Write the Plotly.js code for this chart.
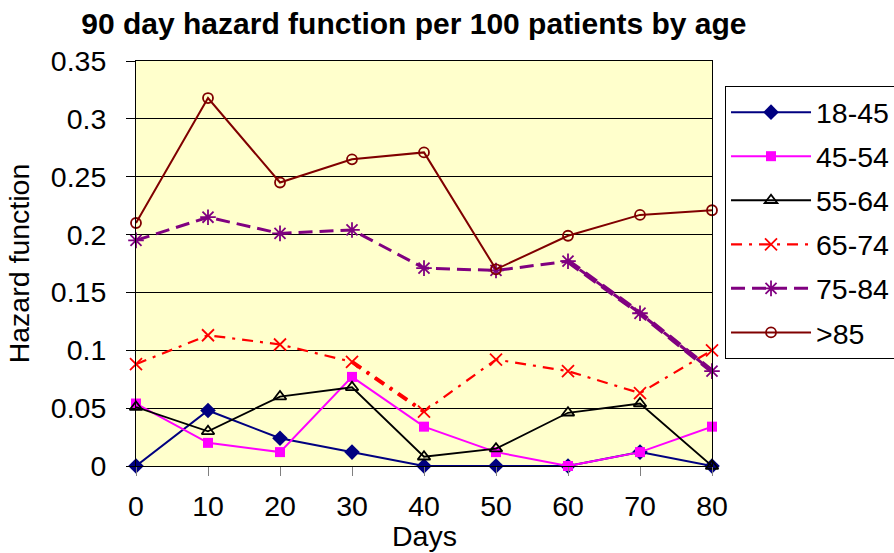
<!DOCTYPE html>
<html>
<head>
<meta charset="utf-8">
<script src="https://cdn.plot.ly/plotly-3.0.1.min.js"></script>
<style>
  html, body { margin: 0; padding: 0; background: #fff; }
  #plot { width: 894px; height: 553px; }
</style>
</head>
<body>
<div id="plot"></div>
<script>
// days since admission
var days = [0, 10, 20, 30, 40, 50, 60, 70, 80];

// hazard per 100 patients, one array per age band
var age18_45 = [0, 0.048, 0.024, 0.012, 0, 0, 0, 0.012, 0];
var age45_54 = [0.054, 0.020, 0.012, 0.077, 0.034, 0.012, 0, 0.012, 0.034];
var age55_64 = [0.051, 0.030, 0.060, 0.068, 0.008, 0.015, 0.046, 0.054, 0];
var age65_74 = [0.088, 0.113, 0.105, 0.090, 0.047, 0.092, 0.082, 0.063, 0.100];
var age75_84 = [0.195, 0.215, 0.201, 0.204, 0.171, 0.169, 0.177, 0.132, 0.082];
var age85 = [0.210, 0.318, 0.245, 0.265, 0.271, 0.170, 0.199, 0.217, 0.221];

var labels = ['18-45', '45-54', '55-64', '65-74', '75-84', '>85'];

var font = 'Liberation Sans, Arial, sans-serif';

var trace1 = {
  x: days, y: age18_45, name: labels[0], legendgroup: 'a',
  mode: 'lines+markers', type: 'scatter', cliponaxis: false,
  line: {color: '#000080', width: 2},
  marker: {symbol: 'diamond', size: 12, color: '#000080'}
};
var trace2 = {
  x: days, y: age45_54, name: labels[1], legendgroup: 'b',
  mode: 'lines+markers', type: 'scatter', cliponaxis: false,
  line: {color: '#FF00FF', width: 2},
  marker: {symbol: 'square', size: 10, color: '#FF00FF'}
};
var trace3 = {
  x: days, y: age55_64, name: labels[2], legendgroup: 'c',
  mode: 'lines+markers', type: 'scatter', cliponaxis: false,
  line: {color: '#000000', width: 1.8},
  marker: {symbol: 'triangle-up-open', size: 11, color: '#000000', line: {width: 1.8}}
};
var trace4 = {
  x: days, y: age65_74, name: labels[3], legendgroup: 'd',
  mode: 'lines+markers', type: 'scatter', cliponaxis: false,
  line: {color: '#FF0000', width: 2.2, dash: '11px,7px,3px,7px'},
  marker: {symbol: 'x-thin-open', size: 12, color: '#FF0000', line: {width: 1.8, color: '#FF0000'}}
};
var trace5 = {
  x: days, y: age75_84, name: labels[4], legendgroup: 'e',
  mode: 'lines+markers', type: 'scatter', cliponaxis: false,
  line: {color: '#800080', width: 3, dash: '14px,7px'},
  marker: {symbol: 'asterisk-open', size: 13, color: '#800080', line: {width: 1.8, color: '#800080'}}
};
var trace6 = {
  x: days, y: age85, name: labels[5], legendgroup: 'f',
  mode: 'lines+markers', type: 'scatter', cliponaxis: false,
  line: {color: '#800000', width: 2},
  marker: {symbol: 'circle-open', size: 10, color: '#800000', line: {width: 1.8}}
};

// the heavier stretches seen in the original rendering
var thick4 = {
  x: days.slice(3, 5), y: age65_74.slice(3, 5), showlegend: false, hoverinfo: 'skip',
  mode: 'lines', type: 'scatter', line: {color: '#FF0000', width: 4, dash: '11px,7px,3px,7px'}
};
var thick5 = {
  x: days.slice(6, 9), y: age75_84.slice(6, 9), showlegend: false, hoverinfo: 'skip',
  mode: 'lines', type: 'scatter', line: {color: '#800080', width: 5, dash: '14px,7px'}
};

var data = [thick4, thick5, trace1, trace2, trace3, trace4, trace5, trace6];

var layout = {
  width: 894, height: 553,
  margin: {l: 136, r: 182, t: 61, b: 87, autoexpand: false},
  paper_bgcolor: '#ffffff',
  plot_bgcolor: '#FFFFCC',
  font: {family: font, size: 28.5, color: '#000'},
  title: {
    text: '<b>90 day hazard function per 100 patients by age</b>',
    font: {family: font, size: 30, color: '#000'},
    x: 0.463, xanchor: 'center', y: 0.957, yanchor: 'middle'
  },
  xaxis: {
    range: [0, 80], dtick: 10, tick0: 0,
    showgrid: false, zeroline: false,
    showline: true, mirror: true, linecolor: '#000', linewidth: 1,
    ticks: 'outside', ticklen: 9, tickcolor: '#808080',
    ticklabelstandoff: 6
  },
  yaxis: {
    range: [0, 0.35], dtick: 0.05, tick0: 0,
    showgrid: true, gridcolor: '#000', gridwidth: 1, zeroline: false,
    showline: true, mirror: true, linecolor: '#000', linewidth: 1,
    ticks: 'outside', ticklen: 9, tickcolor: '#000',
    ticklabelstandoff: 14,
    title: {text: 'Hazard function', standoff: 12, font: {size: 28.5}}
  },
  annotations: [{
    text: 'Days', xref: 'paper', yref: 'paper', x: 0.5, y: 0,
    xanchor: 'center', yanchor: 'top', yshift: -52, showarrow: false,
    font: {size: 28.5}
  }],
  legend: {
    x: 1.0226, xanchor: 'left', y: 0.938, yanchor: 'top',
    bgcolor: '#fff', bordercolor: '#000', borderwidth: 1,
    font: {size: 28.5}, itemwidth: 80,
    traceorder: 'grouped', tracegroupgap: 4
  },
  showlegend: true
};

Plotly.newPlot('plot', data, layout, {displayModeBar: false, staticPlot: true});
</script>
</body>
</html>
